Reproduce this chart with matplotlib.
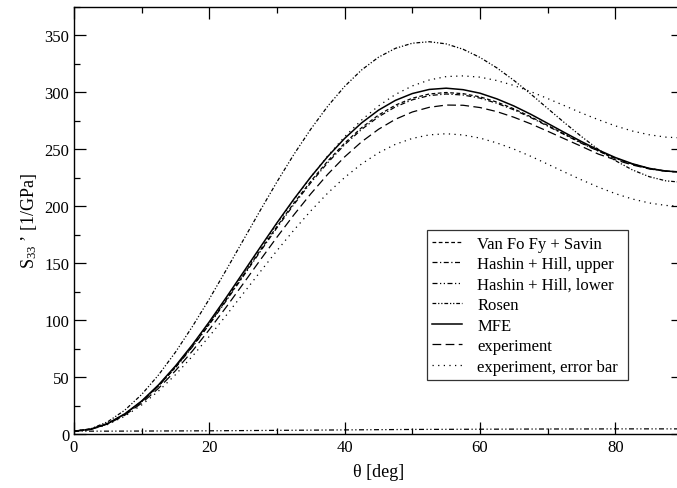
import matplotlib
matplotlib.use("Agg")
import matplotlib.pyplot as plt
from matplotlib.ticker import MultipleLocator

plt.rcParams['font.family'] = ['Liberation Serif', 'DejaVu Serif']
plt.rcParams['mathtext.fontset'] = 'custom'
plt.rcParams['mathtext.rm'] = 'Liberation Serif'
plt.rcParams['mathtext.default'] = 'regular'

theta = [0, 2.5, 5, 7.5, 10, 12.5, 15, 17.5, 20, 22.5, 25, 27.5, 30, 32.5, 35, 37.5,
         40, 42.5, 45, 47.5, 50, 52.5, 55, 57.5, 60, 62.5, 65, 67.5, 70, 72.5, 75,
         77.5, 80, 82.5, 85, 87.5, 90]

van_fo_fy = [2.5, 4.2, 9.2, 17.4, 28.5, 42.4, 58.7, 77.0, 96.8, 117.8, 139.3, 161.0,
             182.3, 202.8, 222.0, 239.7, 255.5, 269.0, 280.1, 288.8, 294.9, 298.6,
             299.9, 298.9, 296.1, 291.5, 285.6, 278.6, 271.0, 263.3, 255.7, 248.6,
             242.3, 237.1, 233.2, 230.8, 230.0]
hashin_upper = [2.5, 4.2, 9.1, 17.3, 28.4, 42.2, 58.3, 76.5, 96.2, 117.0, 138.4, 160.0,
                181.2, 201.6, 220.7, 238.3, 254.1, 267.5, 278.6, 287.3, 293.5, 297.2,
                298.6, 297.7, 295.0, 290.4, 284.7, 277.9, 270.4, 262.9, 255.3, 248.4,
                242.1, 237.0, 233.2, 230.8, 230.0]
hashin_lower = [2.5, 2.5, 2.5, 2.55, 2.6, 2.65, 2.7, 2.75, 2.8, 2.9, 3.0, 3.1,
                3.2, 3.3, 3.4, 3.5, 3.6, 3.7, 3.8, 3.9, 4.0, 4.05, 4.1, 4.15,
                4.2, 4.25, 4.3, 4.35, 4.4, 4.4, 4.4, 4.45, 4.5, 4.5, 4.5, 4.5, 4.5]
rosen = [2.5, 4.6, 10.8, 20.9, 34.7, 51.9, 71.9, 94.4, 118.6, 144.1, 170.1, 196.1,
         221.5, 245.6, 267.8, 287.9, 305.3, 319.7, 330.9, 338.7, 343.2, 344.5,
         342.6, 337.9, 330.7, 321.5, 310.6, 298.6, 285.9, 273.3, 261.2, 249.9,
         240.1, 232.0, 226.0, 222.3, 221.0]
mfe = [2.5, 4.2, 9.3, 17.7, 29.0, 43.2, 59.8, 78.4, 98.6, 119.9, 141.8, 163.8,
       185.5, 206.3, 225.8, 243.7, 259.6, 273.2, 284.4, 293.0, 299.0, 302.6,
       303.7, 302.4, 299.3, 294.3, 288.1, 280.8, 272.8, 264.7, 256.8, 249.4,
       242.8, 237.4, 233.3, 230.9, 230.0]
experiment = [2.5, 4.1, 8.8, 16.5, 27.1, 40.2, 55.6, 72.9, 91.7, 111.5, 131.9, 152.6,
              172.9, 192.5, 211.0, 228.1, 243.4, 256.6, 267.6, 276.4, 282.8, 286.9,
              288.9, 288.7, 286.7, 283.1, 278.2, 272.4, 265.9, 259.2, 252.6, 245.8,
              240.8, 236.3, 232.8, 230.7, 230.0]
err_upper = [2.5, 4.2, 9.2, 17.4, 28.6, 42.6, 59.0, 77.4, 97.4, 118.7, 140.6, 162.7,
             184.6, 205.7, 225.7, 244.3, 261.1, 275.7, 288.1, 298.2, 305.7, 310.9,
             313.9, 314.5, 313.4, 310.4, 306.1, 300.7, 294.6, 288.3, 281.9, 276.0,
             270.6, 266.1, 262.8, 260.7, 260.0]
err_lower = [2.5, 4.0, 8.4, 15.6, 25.5, 37.8, 52.1, 68.3, 85.8, 104.2, 123.3, 142.3,
             161.1, 179.1, 196.0, 211.6, 225.3, 237.2, 246.9, 254.4, 259.6, 262.7,
             263.7, 262.6, 259.9, 255.6, 250.2, 243.9, 237.0, 230.0, 223.2, 216.8,
             211.1, 206.4, 202.9, 200.7, 200.0]

fig = plt.figure(figsize=(6.77, 4.89), dpi=100)
ax = fig.add_axes([74/677, 1-435/489, (683-74)/677, (435-8)/489])

lw = 0.9
ax.plot(theta, van_fo_fy, color='black', lw=lw, dashes=(3, 2), label='Van Fo Fy + Savin')
ax.plot(theta, hashin_upper, color='black', lw=lw, dashes=(4, 2, 1, 2), label='Hashin + Hill, upper')
ax.plot(theta, hashin_lower, color='black', lw=lw, dashes=(4, 2, 1, 2, 1, 2), label='Hashin + Hill, lower')
ax.plot(theta, rosen, color='black', lw=lw, dashes=(3, 1.5, 1, 1.5, 1, 1.5), label='Rosen')
ax.plot(theta, mfe, color='black', lw=1.1, ls='-', label='MFE')
ax.plot(theta, experiment, color='black', lw=lw, dashes=(7, 3.5), label='experiment')
ax.plot(theta, err_upper, color='black', lw=lw, dashes=(1, 3.5), label='experiment, error bar')
ax.plot(theta, err_lower, color='black', lw=lw, dashes=(1, 3.5))

ax.set_xlim(0, 90)
ax.set_ylim(0, 375)
ax.xaxis.set_major_locator(MultipleLocator(20))
ax.xaxis.set_minor_locator(MultipleLocator(10))
ax.yaxis.set_major_locator(MultipleLocator(50))
ax.yaxis.set_minor_locator(MultipleLocator(25))
ax.tick_params(which='both', direction='in', top=True, right=True, labelsize=12, width=0.9)
ax.tick_params(which='major', length=8.5)
ax.tick_params(which='minor', length=4.3)
for s in ax.spines.values():
    s.set_linewidth(1.0)

ax.set_xlabel('θ [deg]', fontsize=13, labelpad=6)
ax.set_ylabel("S$_{33}$ ’ [1/GPa]", fontsize=13, labelpad=4)

leg = ax.legend(loc='lower left', bbox_to_anchor=(0.5796, 0.1265, 0.3301, 0.3465),
                mode='expand', fontsize=12, frameon=True, fancybox=False,
                edgecolor='#333333', framealpha=1, handlelength=1.8,
                handletextpad=0.9, borderaxespad=0, labelspacing=0.27,
                borderpad=0.32)
leg.get_frame().set_linewidth(0.9)

fig.savefig('out.png', dpi=100)
